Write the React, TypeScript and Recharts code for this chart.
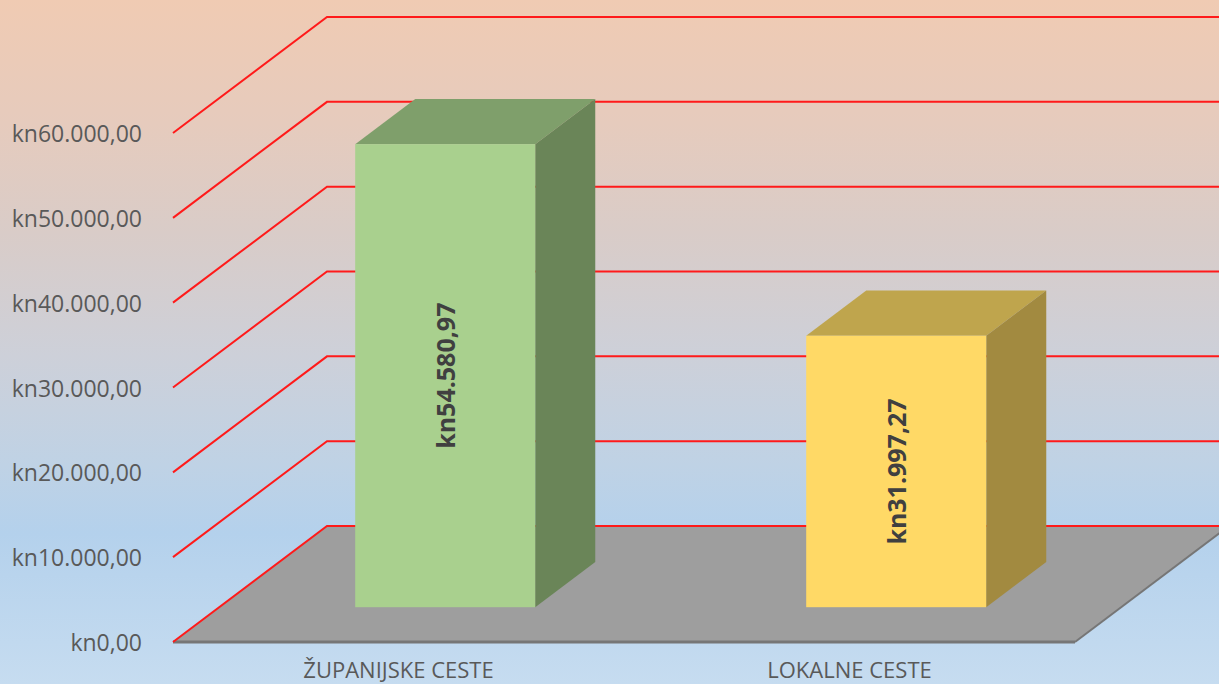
import React from 'react';
import { BarChart, Bar, XAxis, YAxis, ReferenceLine, ReferenceArea } from 'recharts';

const categories = ['ŽUPANIJSKE CESTE', 'LOKALNE CESTE'];
const amounts = [54580.97, 31997.27];
const yTicks = [0, 10000, 20000, 30000, 40000, 50000, 60000];
const frontColors = ['#a9d08e', '#ffd966'];
const topColors = ['#7f9f6b', '#bfa54d'];
const sideColors = ['#6a8558', '#a28a40'];

const data = categories.map((name, i) => ({ name, value: amounts[i], idx: i }));

// 3D projection of the chart depth
const DX = 154;
const DY = -116;
const BAR_OFF = 0.3;
const BAR_DEPTH = 0.39;
const FONT = '"Open Sans", "DejaVu Sans", sans-serif';

const fmt = (v: number) => {
  const fixed = v.toFixed(2);
  const [intPart, dec] = fixed.split('.');
  const withDots = intPart.replace(/\B(?=(\d{3})+(?!\d))/g, '.');
  return `kn${withDots},${dec}`;
};

const YTick = (props: any) => {
  const { x, y, payload } = props;
  return (
    <text
      x={x - 31}
      y={y}
      textAnchor="end"
      dominantBaseline="central"
      fill="#595959"
      fontSize={23}
      fontFamily={FONT}
    >
      {fmt(payload.value)}
    </text>
  );
};

const XTick = (props: any) => {
  const { x, y, payload } = props;
  return (
    <text
      x={x}
      y={y + 27}
      textAnchor="middle"
      dominantBaseline="central"
      fill="#595959"
      fontSize={22}
      fontFamily={FONT}
    >
      {payload.value}
    </text>
  );
};

const GridLine = (props: any) => {
  const { x1, y1, x2 } = props;
  return (
    <path
      d={`M${x1},${y1} L${x1 + DX},${y1 + DY} L${x2 + DX + 60},${y1 + DY}`}
      stroke="#ff1a1a"
      strokeWidth={2}
      fill="none"
    />
  );
};

const Floor = (props: any) => {
  const { x, y, width, height } = props;
  const yb = y + height;
  return (
    <g>
      <polygon
        points={`${x},${yb} ${x + width},${yb} ${x + width + DX},${yb + DY} ${x + DX},${yb + DY}`}
        fill="#9e9e9e"
      />
      <line x1={x} y1={yb} x2={x + width} y2={yb} stroke="#767676" strokeWidth={3} />
      <line x1={x + width} y1={yb} x2={x + width + DX} y2={yb + DY} stroke="#767676" strokeWidth={2} />
    </g>
  );
};

const Bar3D = (props: any) => {
  const { x, y, width, height, index, value } = props;
  const ox = DX * BAR_OFF;
  const oy = DY * BAR_OFF;
  const dx = DX * BAR_DEPTH;
  const dy = DY * BAR_DEPTH;
  const fx = x + ox;
  const fy = y + oy;
  const v = Array.isArray(value) ? value[1] : value;
  const cx = fx + width / 2;
  const cy = fy + height / 2;
  return (
    <g>
      <polygon
        points={`${fx},${fy} ${fx + width},${fy} ${fx + width + dx},${fy + dy} ${fx + dx},${fy + dy}`}
        fill={topColors[index]}
      />
      <polygon
        points={`${fx + width},${fy} ${fx + width + dx},${fy + dy} ${fx + width + dx},${fy + height + dy} ${fx + width},${fy + height}`}
        fill={sideColors[index]}
      />
      <rect x={fx} y={fy} width={width} height={height} fill={frontColors[index]} />
      <text
        x={cx}
        y={cy}
        transform={`rotate(-90 ${cx} ${cy})`}
        textAnchor="middle"
        dominantBaseline="central"
        fill="#404040"
        fontWeight="bold"
        fontSize={25}
        fontFamily={FONT}
      >
        {fmt(v)}
      </text>
    </g>
  );
};

export default function App() {
  return (
    <div
      style={{
        position: 'absolute',
        left: 0,
        top: 0,
        width: 1219,
        height: 684,
        overflow: 'hidden',
        background:
          'linear-gradient(to bottom, #f0cbb3 0%, #e6cbbd 18%, #d9ccc8 34%, #cdd0d9 52%, #bfd2e5 68%, #b4d1ec 78%, #c6dcf0 100%)',
      }}
    >
      <BarChart
        width={1219}
        height={684}
        data={data}
        margin={{ top: 133, right: 144, bottom: 0, left: 0 }}
        barSize={180}
      >
        <XAxis
          dataKey="name"
          height={42}
          axisLine={false}
          tickLine={false}
          tickSize={0}
          tickMargin={0}
          tick={<XTick />}
          interval={0}
        />
        <YAxis
          width={173}
          domain={[0, 60000]}
          ticks={yTicks}
          axisLine={false}
          tickLine={false}
          tickSize={0}
          tickMargin={0}
          tick={<YTick />}
          interval={0}
        />
        <ReferenceArea y1={0} y2={60000} shape={<Floor />} zIndex={-300} />
        {yTicks.map((t) => (
          <ReferenceLine key={t} y={t} shape={<GridLine />} zIndex={-200} />
        ))}
        <Bar dataKey="value" isAnimationActive={false} shape={<Bar3D />} />
      </BarChart>
    </div>
  );
}
